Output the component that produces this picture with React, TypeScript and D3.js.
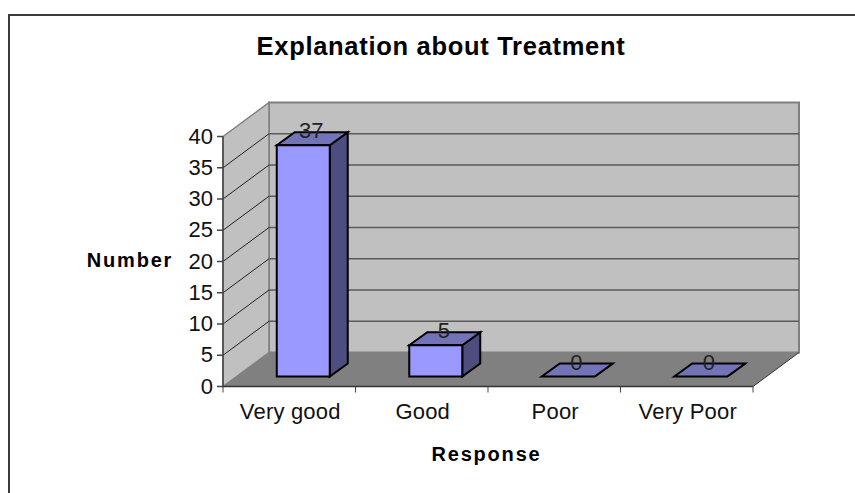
import React from "react";
import * as d3 from "d3";

const title = "Explanation about Treatment";
const xTitle = "Response";
const yTitle = "Number";
const categories = ["Very good", "Good", "Poor", "Very Poor"];
const values = [37, 5, 0, 0];
const yTicks = [0, 5, 10, 15, 20, 25, 30, 35, 40];

const width = 855;
const height = 493;

// front plane of the plot, the back wall sits at an offset from it
const x = d3.scaleBand<string>().domain(categories).range([223, 753]);
const y = d3.scaleLinear().domain([0, 40]).range([386.5, 136.5]);
const depth = { dx: 46, dy: -34 };
const barIn = { dx: 14, dy: -10 };
const barDepth = { dx: 18, dy: -13 };
const barWidth = 53;

const font = "'Liberation Sans', Arial, sans-serif";
const line = d3.line();

const App = () => {
  const [x0, x1] = x.range();
  const y0 = y(0);
  const y40 = y(40);
  const bx = x0 + depth.dx;
  const bx1 = x1 + depth.dx;
  const by0 = y0 + depth.dy;
  const by40 = y40 + depth.dy;

  return (
    <svg
      width={width}
      height={height}
      style={{ position: "absolute", left: 0, top: 0, background: "#fff" }}
    >
      {/* outer frame runs off the right and bottom of the page */}
      <rect x={9} y={15} width={900} height={520} fill="#fff" stroke="#3c3c3c" strokeWidth={2} />
      <text x={441} y={55} textAnchor="middle" fontFamily={font} fontSize={25.5} fontWeight="bold" letterSpacing={0.7}>
        {title}
      </text>

      {/* walls and floor */}
      <path d={line([[bx, by40], [bx1, by40], [bx1, by0], [bx, by0]])! + "Z"} fill="#c0c0c0" stroke="#808080" strokeWidth={2} />
      <path d={line([[x0, y40], [bx, by40], [bx, by0], [x0, y0]])! + "Z"} fill="#c0c0c0" stroke="#808080" strokeWidth={1.5} />
      <path d={line([[x0, y0], [bx, by0], [bx1, by0], [x1, y0]])! + "Z"} fill="#808080" />

      {/* gridlines */}
      {yTicks.slice(1, -1).map((t) => (
        <g key={t} fill="none">
          <line x1={x0} y1={y(t)} x2={bx} y2={y(t) + depth.dy} stroke="#222" strokeWidth={1} />
          <line x1={bx} y1={y(t) + depth.dy} x2={bx1} y2={y(t) + depth.dy} stroke="#5a5a5a" strokeWidth={1.5} />
        </g>
      ))}
      <line x1={x1} y1={y0} x2={bx1} y2={by0} stroke="#333" strokeWidth={1} />

      {/* axes */}
      <line x1={x0} y1={y40} x2={x0} y2={y0} stroke="#444" strokeWidth={1.5} />
      <line x1={x0} y1={y0} x2={x1} y2={y0} stroke="#333" strokeWidth={1.5} />
      {yTicks.map((t) => (
        <g key={t}>
          <line x1={x0 - 6} x2={x0} y1={y(t)} y2={y(t)} stroke="#444" strokeWidth={1.5} />
          <text x={x0 - 10} y={y(t) + 7} textAnchor="end" fontFamily={font} fontSize={22} fill="#111">
            {t}
          </text>
        </g>
      ))}
      {[...categories.map((c) => x(c)!), x1].map((px) => (
        <line key={px} x1={px} x2={px} y1={y0} y2={y0 + 6} stroke="#444" strokeWidth={1} />
      ))}
      {categories.map((c) => (
        <text key={c} x={x(c)! + x.bandwidth() / 2 + 1} y={y0 + 32} textAnchor="middle" fontFamily={font} fontSize={22} letterSpacing={0.2} fill="#111">
          {c}
        </text>
      ))}

      {/* bars */}
      {categories.map((c, i) => {
        const left = x(c)! + x.bandwidth() / 2 + barIn.dx - barWidth / 2;
        const right = left + barWidth;
        const base = y0 + barIn.dy;
        const top = y(values[i]) + barIn.dy;
        const { dx, dy } = barDepth;
        return (
          <g key={c} stroke="#000" strokeWidth={2} strokeLinejoin="miter">
            <path d={line([[right, top], [right + dx, top + dy], [right + dx, base + dy], [right, base]])! + "Z"} fill="#4d4d80" />
            <path d={line([[left, top], [left + dx, top + dy], [right + dx, top + dy], [right, top]])! + "Z"} fill="#7373b8" />
            <rect x={left} y={top} width={barWidth} height={base - top} fill="#9999ff" />
            <text x={left + barWidth / 2 + 8} y={top - 7} textAnchor="middle" fontFamily={font} fontSize={22} stroke="none" fill="#222">
              {values[i]}
            </text>
          </g>
        );
      })}

      <text x={130} y={266.5} textAnchor="middle" fontFamily={font} fontSize={20} fontWeight="bold" letterSpacing={1.8}>
        {yTitle}
      </text>
      <text x={486.5} y={460.5} textAnchor="middle" fontFamily={font} fontSize={20} fontWeight="bold" letterSpacing={1.8}>
        {xTitle}
      </text>
    </svg>
  );
};

export default App;
